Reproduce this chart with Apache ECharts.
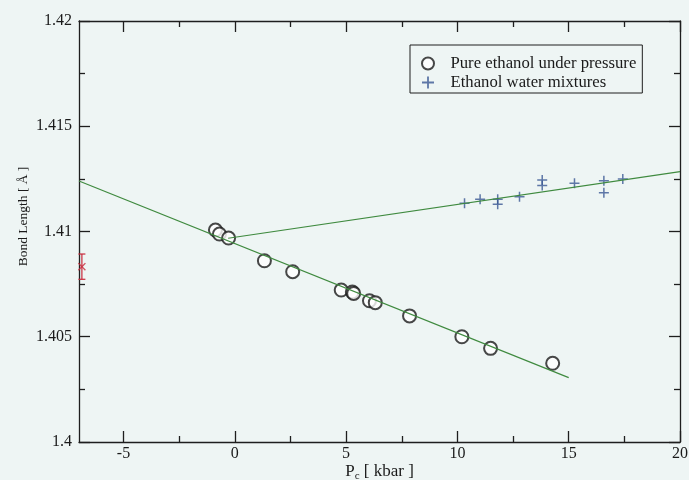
<!DOCTYPE html>
<html>
<head>
<meta charset="utf-8">
<script src="https://cdn.jsdelivr.net/npm/echarts@6/dist/echarts.min.js"></script>
<style>
  html, body { margin: 0; padding: 0; background: #eef5f4; }
  #chart { width: 689px; height: 480px; }
</style>
</head>
<body>
<div id="chart"></div>
<script>
// Pure ethanol under pressure: pressure (kbar) and C-O bond length (Å)
const purePressure = [-0.87, -0.69, -0.28, 1.33, 2.60, 4.78, 5.28, 5.34, 6.05, 6.31, 7.85, 10.20, 11.49, 14.28];
const pureLength   = [1.41007, 1.40988, 1.40969, 1.40861, 1.40809, 1.40722, 1.40712, 1.40706, 1.40671, 1.40662, 1.40599, 1.40500, 1.40445, 1.40374];

// Ethanol water mixtures
const mixPressure = [10.32, 11.02, 11.81, 11.81, 12.79, 13.81, 13.81, 15.26, 16.58, 16.58, 17.43];
const mixLength   = [1.41134, 1.41153, 1.41153, 1.41129, 1.41165, 1.41245, 1.41218, 1.41229, 1.41241, 1.41184, 1.41249];

// Linear fits (end points)
const pureFitPressure = [-7, 15];
const pureFitLength   = [1.4124, 1.40306];
const mixFitPressure  = [-0.3, 20];
const mixFitLength    = [1.40968, 1.41284];

// Reference value with error bar
const refPressure = [-6.87];
const refLength   = [1.40833];
const refError    = [0.0006];

// Axis ticks
const xMajorTicks = [-5, 0, 5, 10, 15, 20];
const xMinorTicks = [-2.5, 2.5, 7.5, 12.5, 17.5];

const FONT = '"Liberation Serif", "DejaVu Serif", serif';
const AXIS_COLOR = '#1e1e1e';
const PLUS = 'path://M4.25,0 H5.75 V4.25 H10 V5.75 H5.75 V10 H4.25 V5.75 H0 V4.25 H4.25 Z';
const CROSS = 'path://M0,1.2 L1.2,0 L5,3.8 L8.8,0 L10,1.2 L6.2,5 L10,8.8 L8.8,10 L5,6.2 L1.2,10 L0,8.8 L3.8,5 Z';

const zip = (a, b) => a.map((v, i) => [v, b[i]]);

const axisLine = { show: true, onZero: false, lineStyle: { color: AXIS_COLOR, width: 1.3 } };

function xAx(position, ticks, len, labels, extra) {
  return Object.assign({
    type: 'value', position: position, min: -7, max: 20,
    axisLine: axisLine,
    axisTick: { show: true, inside: true, length: len, customValues: ticks, lineStyle: { color: AXIS_COLOR, width: 1.3 } },
    axisLabel: labels ? {
      show: true, customValues: ticks, margin: 4, fontFamily: FONT, fontSize: 16, color: '#1a1a1a',
      formatter: v => String(v)
    } : { show: false },
    splitLine: { show: false }
  }, extra || {});
}

function yAx(position, labels, extra) {
  return Object.assign({
    type: 'value', position: position, min: 1.4, max: 1.42, interval: 0.005,
    axisLine: axisLine,
    axisTick: { show: true, inside: true, length: 11, lineStyle: { color: AXIS_COLOR, width: 1.3 } },
    minorTick: { show: true, splitNumber: 2, length: 6, lineStyle: { color: AXIS_COLOR, width: 1.3 } },
    axisLabel: labels ? {
      show: true, margin: 7, fontFamily: FONT, fontSize: 16, color: '#1a1a1a',
      formatter: v => String(+v.toFixed(3))
    } : { show: false },
    splitLine: { show: false }
  }, extra || {});
}

const chart = echarts.init(document.getElementById('chart'), null, { renderer: 'canvas' });

chart.setOption({
  backgroundColor: '#eef5f4',
  animation: false,
  grid: { left: 79, right: 9, top: 21, bottom: 38, containLabel: false, outerBoundsMode: 'none' },
  legend: {
    left: 410, top: 45,
    orient: 'vertical',
    backgroundColor: '#eef5f4',
    borderColor: '#1e1e1e', borderWidth: 1,
    padding: [10, 6, 2, 11],
    itemWidth: 35, itemHeight: 12, itemGap: 2,
    textStyle: { fontFamily: FONT, fontSize: 16.7, color: '#1a1a1a' },
    data: ['Pure ethanol under pressure', 'Ethanol water mixtures']
  },
  xAxis: [
    xAx('bottom', xMajorTicks, 11, true, {
      name: '{p|P}{s|c}{p| [ kbar ]}',
      nameLocation: 'middle', nameGap: 19, nameMoveOverlap: false,
      nameTextStyle: {
        rich: {
          p: { fontFamily: FONT, fontSize: 17, color: '#1a1a1a' },
          s: { fontFamily: FONT, fontSize: 11, color: '#1a1a1a', verticalAlign: 'bottom', padding: [10, 0, 0, 0] }
        }
      }
    }),
    xAx('bottom', xMinorTicks, 6, false, { axisLine: { show: false } }),
    xAx('top', xMajorTicks, 11, false),
    xAx('top', xMinorTicks, 6, false, { axisLine: { show: false } })
  ],
  yAxis: [
    yAx('left', true, {
      name: 'Bond Length [ Å ]',
      nameLocation: 'middle', nameGap: 49, nameMoveOverlap: false,
      nameTextStyle: { fontFamily: FONT, fontSize: 13.5, color: '#1a1a1a', padding: [0, 0, 0, 30] }
    }),
    yAx('right', false)
  ],
  series: [
    {
      type: 'line', name: 'pure-fit', xAxisIndex: 0, yAxisIndex: 0,
      data: zip(pureFitPressure, pureFitLength),
      showSymbol: false, silent: true,
      lineStyle: { color: '#3f8a3f', width: 1.2 }
    },
    {
      type: 'line', name: 'mix-fit', xAxisIndex: 0, yAxisIndex: 0,
      data: zip(mixFitPressure, mixFitLength),
      showSymbol: false, silent: true,
      lineStyle: { color: '#3f8a3f', width: 1.2 }
    },
    {
      type: 'scatter', name: 'Pure ethanol under pressure', xAxisIndex: 0, yAxisIndex: 0,
      data: zip(purePressure, pureLength),
      symbol: 'emptyCircle', symbolSize: 13,
      itemStyle: { color: '#1a1a1a', borderColor: '#1a1a1a', borderWidth: 1.1 }
    },
    {
      type: 'scatter', name: 'Ethanol water mixtures', xAxisIndex: 0, yAxisIndex: 0,
      data: zip(mixPressure, mixLength),
      symbol: PLUS, symbolSize: 10,
      itemStyle: { color: '#3a5894' }
    },
    {
      type: 'custom', name: 'ref-error', xAxisIndex: 0, yAxisIndex: 0,
      data: refPressure.map((p, i) => [p, refLength[i], refError[i]]),
      renderItem: function (params, api) {
        const x = api.value(0), y = api.value(1), e = api.value(2);
        const top = api.coord([x, y + e]);
        const bot = api.coord([x, y - e]);
        const s = { stroke: '#c8283a', lineWidth: 1.2 };
        return {
          type: 'group',
          children: [
            { type: 'line', shape: { x1: top[0], y1: top[1], x2: bot[0], y2: bot[1] }, style: s },
            { type: 'line', shape: { x1: top[0] - 3.5, y1: top[1], x2: top[0] + 3.5, y2: top[1] }, style: s },
            { type: 'line', shape: { x1: bot[0] - 3.5, y1: bot[1], x2: bot[0] + 3.5, y2: bot[1] }, style: s }
          ]
        };
      }
    },
    {
      type: 'scatter', name: 'ref', xAxisIndex: 0, yAxisIndex: 0,
      data: zip(refPressure, refLength),
      symbol: CROSS, symbolSize: 8,
      itemStyle: { color: '#c8283a' }
    }
  ]
});
</script>
</body>
</html>
